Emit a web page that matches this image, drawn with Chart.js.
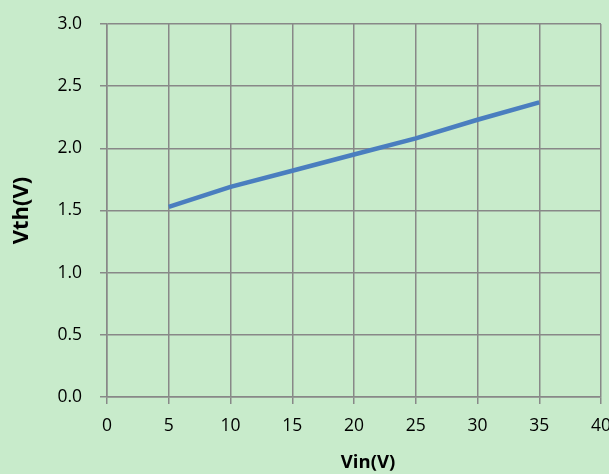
<!DOCTYPE html>
<html lang="en">
<head>
  <meta charset="UTF-8">
  <title>Vth vs Vin</title>
  <script src="https://cdn.jsdelivr.net/npm/chart.js"></script>
  <style>
    html, body { margin: 0; padding: 0; background: #c8ebcb; }
    #wrap { width: 609px; height: 474px; }
  </style>
</head>
<body>
  <div id="wrap"><canvas id="vthChart"></canvas></div>
  <script>
    // Data
    const vin = [5, 10, 15, 20, 25, 30, 35];
    const vth = [1.53, 1.69, 1.82, 1.95, 2.08, 2.23, 2.37];
    const xTitle = 'Vin(V)';
    const yTitle = 'Vth(V)';

    const gridColor = '#888888';
    const tickFont = { family: 'Open Sans', size: 17.5 };
    const titleFont = { family: 'Open Sans', size: 22, weight: 'bold' };

    // x axis title sits a little right of centre in the original, so draw it by hand
    const xTitlePlugin = {
      id: 'xTitle',
      afterDraw(chart) {
        const c = chart.ctx;
        const area = chart.chartArea;
        c.save();
        c.font = 'bold 18.5px "Open Sans"';
        c.fillStyle = '#000';
        c.textAlign = 'center';
        c.textBaseline = 'middle';
        c.fillText(xTitle, (area.left + area.right) / 2 + 14, chart.height - 11);
        c.restore();
      }
    };

    const ctx = document.getElementById('vthChart').getContext('2d');
    new Chart(ctx, {
      type: 'line',
      data: {
        datasets: [{
          label: yTitle,
          data: vin.map((v, i) => ({ x: v, y: vth[i] })),
          borderColor: '#4a7ebf',
          borderWidth: 4.5,
          pointRadius: 0,
          tension: 0,
          fill: false
        }]
      },
      options: {
        responsive: true,
        maintainAspectRatio: false,
        animation: false,
        layout: { padding: { top: 24, right: 8, left: 0, bottom: 0 } },
        plugins: { legend: { display: false }, tooltip: { enabled: false } },
        scales: {
          x: {
            type: 'linear',
            min: 0, max: 40,
            ticks: { stepSize: 5, color: '#000', font: tickFont, padding: 12, maxRotation: 0 },
            grid: { color: gridColor, lineWidth: 1.5, tickLength: 7 },
            border: { color: gridColor, width: 1.5 },
            afterFit: s => { s.height = 77; s.paddingLeft = 0; s.paddingRight = 0; }
          },
          y: {
            min: 0, max: 3,
            ticks: { stepSize: 0.5, color: '#000', font: tickFont, padding: 18,
                     callback: v => v.toFixed(1) },
            grid: { color: gridColor, lineWidth: 1.5, tickLength: 7 },
            border: { color: gridColor, width: 1.5 },
            title: { display: true, text: yTitle, color: '#000', font: titleFont, padding: { top: 9, bottom: 0 } },
            afterFit: s => { s.width = 107; s.paddingTop = 0; s.paddingBottom = 0; }
          }
        }
      },
      plugins: [xTitlePlugin]
    });
  </script>
</body>
</html>
